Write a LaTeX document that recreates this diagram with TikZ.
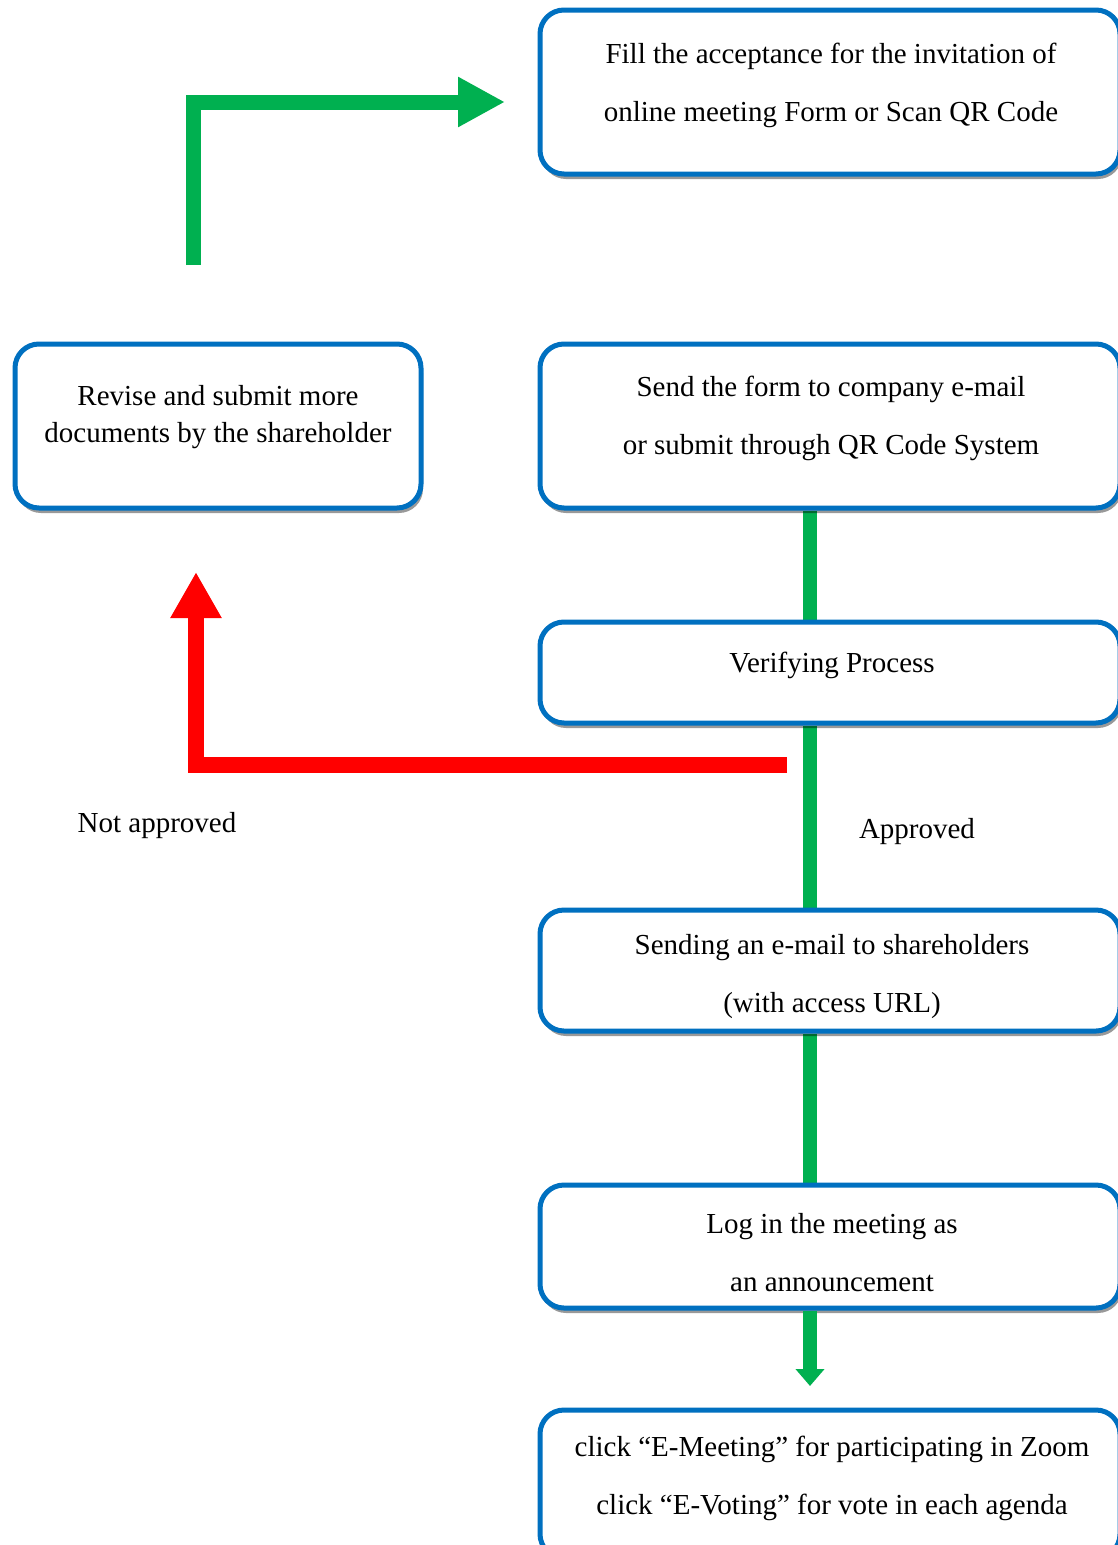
\documentclass[tikz,border=0pt]{standalone}
\usepackage{fontspec}
\setmainfont{Liberation Serif}
\usetikzlibrary{arrows.meta,shadows,backgrounds}
\definecolor{boxblue}{HTML}{0070C0}
\definecolor{arrgreen}{HTML}{00B050}
\definecolor{arrred}{HTML}{FF0000}
\tikzset{
  flowbox/.style={draw=boxblue, line width=5pt, rounded corners=24pt, fill=white, inner sep=0pt,
    drop shadow={shadow xshift=2pt, shadow yshift=-5pt, fill=black, opacity=0.4}},
  txt/.style={align=center, inner sep=0pt, font=\fontsize{29}{58}\selectfont},
  txtl/.style={align=center, inner sep=0pt, font=\fontsize{29}{37}\selectfont},
  gline/.style={draw=arrgreen, line width=14pt},
  gthick/.style={draw=arrgreen, line width=15pt, line join=miter},
  rthick/.style={draw=arrred, line width=16pt, line join=miter},
}
\begin{document}
\begin{tikzpicture}[x=1pt, y=-1pt]
\useasboundingbox (0,0) rectangle (1118,1545);
\clip (0,0) rectangle (1118,1545);

% boxes
\node[flowbox, minimum width=580pt, minimum height=164pt] (b1) at (830,92) {};
\node[flowbox, minimum width=580pt, minimum height=164pt] (b2) at (830,426) {};
\node[flowbox, minimum width=580pt, minimum height=101pt] (b3) at (830,672.5) {};
\node[flowbox, minimum width=580pt, minimum height=121pt] (b4) at (830,970.5) {};
\node[flowbox, minimum width=580pt, minimum height=123pt] (b5) at (830,1246.5) {};
\node[flowbox, minimum width=580pt, minimum height=148pt] (b6) at (830,1484) {};
\node[flowbox, minimum width=406pt, minimum height=164pt] (bl) at (218,426) {};

% texts
\node[txt] (t1) at (831,85) {Fill the acceptance for the invitation of\\online meeting Form or Scan QR Code};
\node[txt] (t2) at (831,418) {Send the form to company e-mail\\or submit through QR Code System};
\node[txt] (t3) at (832,665) {Verifying Process};
\node[txt] (t4) at (832,977) {Sending an e-mail to shareholders\\(with access URL)};
\node[txt] (t5) at (832,1253) {Log in the meeting as\\an announcement};
\node[txt] (t6) at (832,1478) {click “E-Meeting” for participating in Zoom\\click “E-Voting” for vote in each agenda};
\node[txtl] (tl) at (218,417) {Revise and submit more\\documents by the shareholder};
\node[txt] (lna) at (157,826) {Not approved};
\node[txt] (la) at (917,832) {Approved};

% connector coordinates
\coordinate (gx) at (810,0);
\coordinate (gend) at (810,1386);
\coordinate (rstart) at (787,765);
\coordinate (rtip) at (196,572);
\coordinate (estart) at (193,265);
\coordinate (etip) at (505,102);

\begin{scope}[on background layer]
\fill[white] (0,0) rectangle (1118,1545);
\draw[gline] (b2.south -| gx) -- (b3.north -| gx);
\draw[gline] (b3.south -| gx) -- (b4.north -| gx);
\draw[gline] (b4.south -| gx) -- (b5.north -| gx);
\end{scope}
\draw[gline, -{Triangle[length=17pt,width=28pt]}] (b5.south -| gx) -- (gend);

\draw[rthick, -{Triangle[length=46pt,width=48pt]}] (rstart) -- (rstart -| rtip) -- (rtip);
\draw[gthick, -{Triangle[length=47pt,width=47pt]}] (estart) -- (estart |- etip) -- (etip);
\end{tikzpicture}
\end{document}
